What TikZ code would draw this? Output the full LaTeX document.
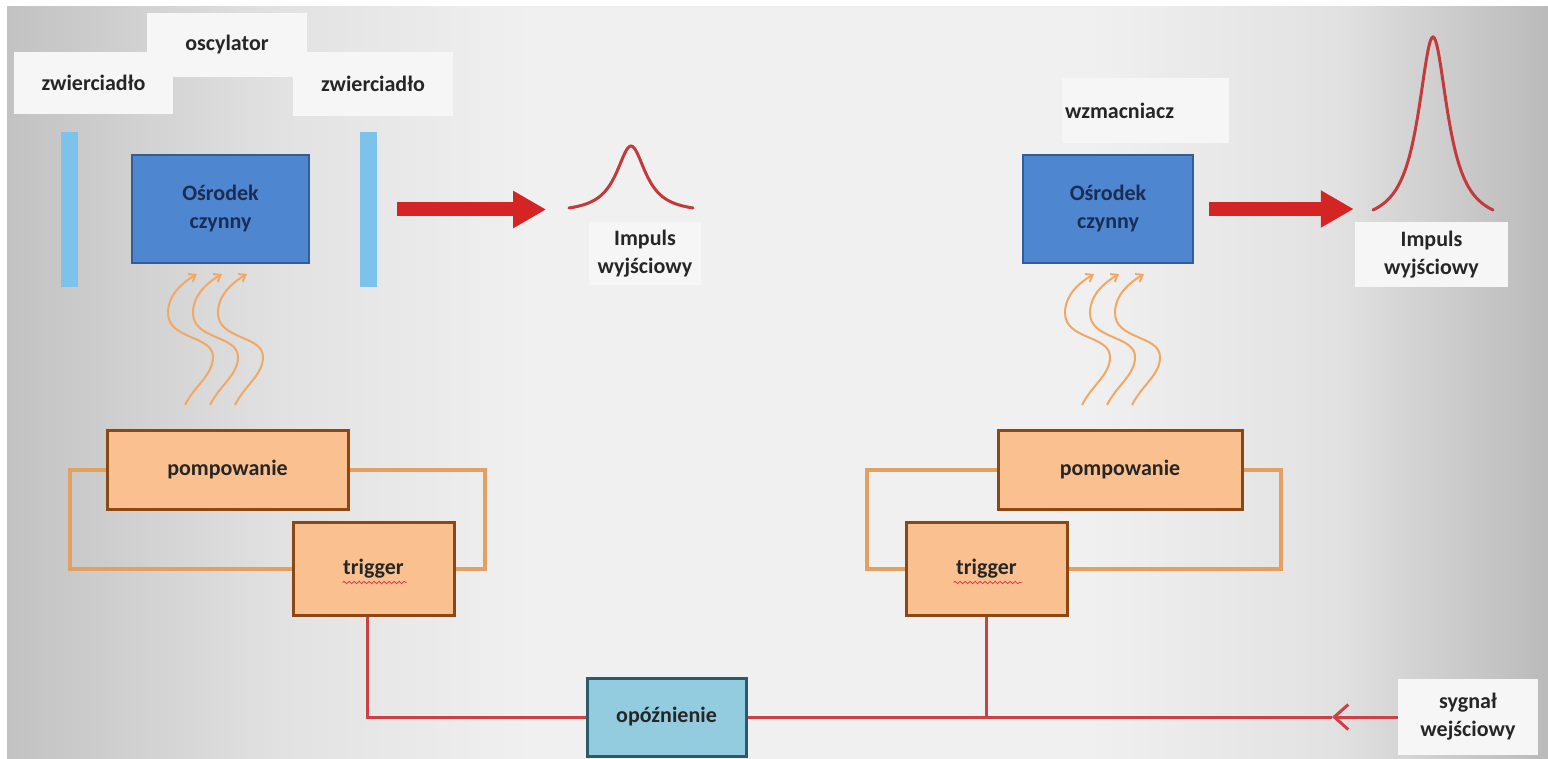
\documentclass[tikz,border=0pt]{standalone}
\usepackage{fontspec}
\setmainfont{Carlito}
\usetikzlibrary{arrows.meta,decorations.pathmorphing}

\definecolor{textdark}{RGB}{38,38,38}
\definecolor{navytext}{RGB}{25,45,85}
\definecolor{lblfill}{RGB}{246,246,246}
\definecolor{mirrorblue}{RGB}{124,194,234}
\definecolor{mediumblue}{RGB}{79,134,208}
\definecolor{mediumedge}{RGB}{52,92,150}
\definecolor{pumpfill}{RGB}{250,192,144}
\definecolor{pumpedge}{RGB}{140,72,20}
\definecolor{loopor}{RGB}{228,160,96}
\definecolor{delayfill}{RGB}{146,204,222}
\definecolor{delayedge}{RGB}{40,92,108}
\definecolor{sigred}{RGB}{206,64,70}
\definecolor{beamred}{RGB}{212,36,36}
\definecolor{pulsered}{RGB}{196,58,58}
\definecolor{waveor}{RGB}{240,168,100}
\definecolor{bgedgeL}{RGB}{194,194,194}
\definecolor{bgside}{RGB}{226,226,226}
\definecolor{bgmid}{RGB}{240,240,240}
\definecolor{bgedgeR}{RGB}{186,186,186}

\pgfdeclarehorizontalshading{slidebg}{100bp}{color(0bp)=(bgedgeL); color(25bp)=(bgedgeL);
  color(34bp)=(bgside); color(42bp)=(bgmid); color(60bp)=(bgmid); color(68bp)=(bgside);
  color(75bp)=(bgedgeR); color(100bp)=(bgedgeR)}

\begin{document}
\begin{tikzpicture}[x=1pt,y=-1pt,
    txt/.style={font=\fontsize{22}{28}\selectfont\bfseries, text=textdark, align=center},
    lblbox/.style={txt, fill=lblfill, inner sep=0pt},
    mirror/.style={fill=mirrorblue, minimum width=17pt, minimum height=155pt, inner sep=0pt},
    medium/.style={txt, text=navytext, fill=mediumblue, draw=mediumedge, line width=1.5pt,
      minimum height=108pt, inner sep=0pt},
    pumpbox/.style={txt, fill=pumpfill, draw=pumpedge, line width=3pt, inner sep=0pt},
    delaybox/.style={txt, fill=delayfill, draw=delayedge, line width=3pt,
      minimum width=159pt, minimum height=78pt},
    loopline/.style={draw=loopor, line width=4pt},
    sigline/.style={draw=sigred, line width=3pt},
    beam/.style={draw=beamred, line width=14pt, -{Triangle[length=33pt,width=35pt]}},
    pulse/.style={draw=pulsered, line width=3pt, line cap=round},
    wave/.style={draw=waveor, line width=2pt, -{Straight Barb[length=6pt,width=9pt]}},
    squig/.style={draw=sigred, line width=0.8pt, decorate,
      decoration={snake, amplitude=1.2pt, segment length=5pt}}
  ]
  \useasboundingbox (0,0) rectangle (1548,759);
  \fill[white] (0,0) rectangle (1548,759);
  \shade[shading=slidebg] (7,7) rectangle (1548,759);

  % oscillator labels
  \node[lblbox, minimum width=160pt, minimum height=64pt] (osc) at (227,45) {oscylator};
  \node[lblbox, minimum width=159pt, minimum height=62pt] (mirLlbl) at (93.5,83) {zwierciadło};
  \node[lblbox, minimum width=160pt, minimum height=64pt] (mirRlbl) at (373,84) {zwierciadło};

  % oscillator
  \node[mirror] (mirL) at (69.5,209.5) {};
  \node[mirror] (mirR) at (368.5,209.5) {};
  \node[medium, minimum width=177pt] (medL) at (220.5,209) {Ośrodek\\czynny};
  \draw[beam] ([xshift=20pt]mirR.east) -- ++(149,0);
  \draw[pulse] plot[domain=-62:62, samples=81, smooth]
    ({631+\x},{208-62*(1/(1+(\x/18)^2)-0.0777)/0.9223});
  \node[lblbox, minimum width=112pt, minimum height=63pt] (outL) at (645,254) {Impuls\\wyjściowy};

  % amplifier
  \node[lblbox, text width=161pt, align=left, minimum width=167pt, minimum height=65pt] (amp)
    at (1145.5,110.5) {wzmacniacz};
  \node[medium, minimum width=170pt] (medR) at (1108,209) {Ośrodek\\czynny};
  \draw[beam] ([xshift=15pt]medR.east) -- ++(145,0);
  \draw[pulse] plot[domain=-60:60, samples=101, smooth]
    ({1433+\x},{210-173*(1/(1+(\x/18)^2)-0.0826)/0.9174});
  \node[lblbox, minimum width=153pt, minimum height=65pt] (outR) at (1431.5,254.5) {Impuls\\wyjściowy};

  % pumping
  \foreach \dx in {0,25,50,897,922,947}
    \draw[wave, shift={(\dx,0)}] (185,405) .. controls (195,385) and (213,375) .. (213,357)
      .. controls (213,335) and (168,340) .. (168,313)
      .. controls (168,295) and (182,283) .. (197,274);

  \node[pumpbox, minimum width=241pt, minimum height=79pt] (pompL) at (227.5,469.5) {pompowanie};
  \node[pumpbox, minimum width=161pt, minimum height=93pt] (trigL) at (373.5,568.5) {trigger};
  \node[pumpbox, minimum width=244pt, minimum height=79pt] (pompR) at (1120,469.5) {pompowanie};
  \node[pumpbox, minimum width=161pt, minimum height=93pt] (trigR) at (986.5,568.5) {trigger};
  \draw[squig] (trigL.center) ++(-31,14) -- ++(64,0);
  \draw[squig] (trigR.center) ++(-33,14) -- ++(68,0);

  \draw[loopline] (pompL.west) -- ++(-36,0) |- (trigL.west);
  \draw[loopline] (pompL.east) -- ++(135,0) |- (trigL.east);
  \draw[loopline] (pompR.west) -- ++(-130,0) |- (trigR.west);
  \draw[loopline] (pompR.east) -- ++(37,0) |- (trigR.east);

  % delay line
  \node[delaybox] (delay) at (666.5,717) {opóźnienie};
  \node[lblbox, minimum width=140pt, minimum height=76pt] (sig) at (1468,717) {sygnał\\wejściowy};
  \coordinate (sigTip) at (1332,717);
  \draw[sigline] ([xshift=-6pt]trigL.south) |- (delay.west);
  \draw[sigline, -{Straight Barb[length=14pt,width=25pt]}] (sig.west) -- (sigTip);
  \draw[sigline] (sigTip) -- (delay.east);
  \draw[sigline] (trigR.south) -- (trigR.south |- delay.east);
\end{tikzpicture}
\end{document}
